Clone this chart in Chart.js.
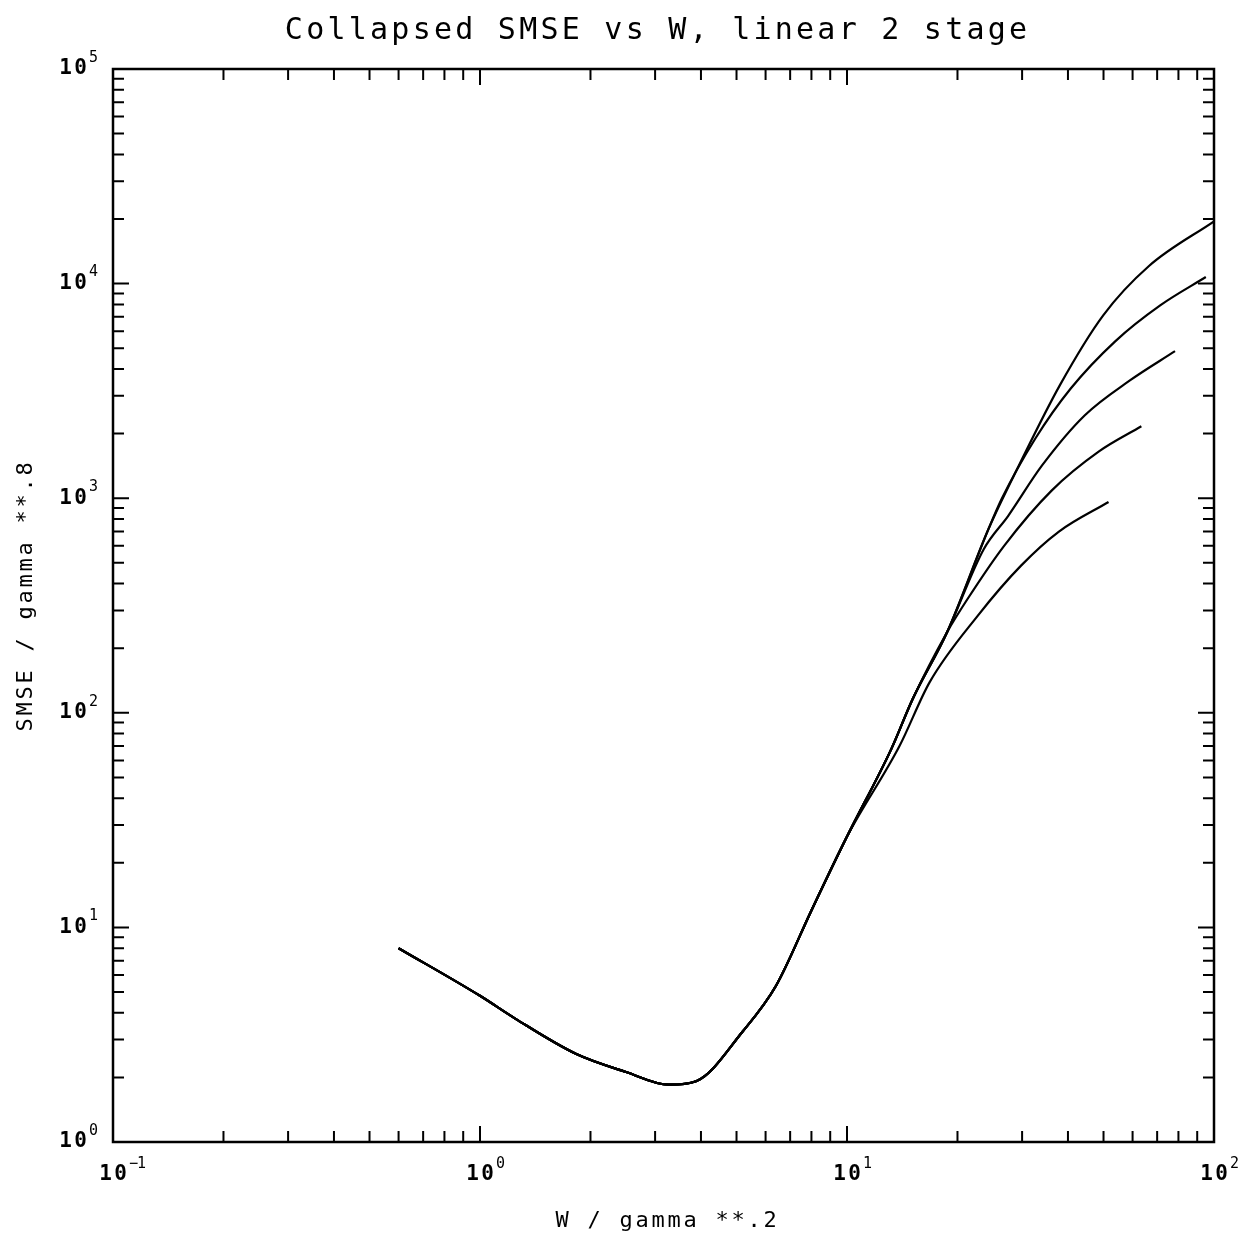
<!DOCTYPE html>
<html>
<head>
<meta charset="utf-8">
<script src="https://cdn.jsdelivr.net/npm/chart.js@4.4.1/dist/chart.umd.min.js"></script>
<style>
  html, body { margin: 0; padding: 0; background: #fff; }
  #wrap { width: 1251px; height: 1236px; }
</style>
</head>
<body>
<div id="wrap"><canvas id="smse" width="1251" height="1236"></canvas></div>
<script>
// common part of all five runs (they lie on top of each other up to W ~ 10)
var baseW = [0.6, 1.0, 1.25, 1.83, 2.5, 3.27, 3.88, 5.21, 6.4, 8, 10];
var baseS = [8.0, 4.8, 3.75, 2.57, 2.12, 1.85, 1.92, 3.29, 5.33, 12, 26.5];
// upper bundle shared by runs 1-4
var bundleW = [13.2, 15.1, 18.75];
var bundleS = [67.7, 116, 238];

// the tails where the runs split
var run1W = [24.3, 29.4, 38, 49.9, 66.5, 100];
var run1S = [719, 1419, 3356, 7114, 12080, 19500];
var run2W = [24.3, 26.4, 32.6, 40.7, 53.8, 71.5, 95];
var run2S = [719, 994, 1897, 3243, 5383, 7935, 10727];
var run3W = [23.6, 27.5, 34, 44.4, 59, 78.3];
var run3S = [580, 828, 1421, 2429, 3537, 4842];
var run4W = [21.3, 26.8, 36.1, 48.6, 63.4];
var run4S = [339, 600, 1085, 1652, 2163];
var run5W = [13.9, 16.8, 22.7, 29.8, 37.8, 51.6];
var run5S = [70, 139, 283, 485, 699, 960];

// decades for the tick labels (10^n)
var xDecades = [-1, 0, 1, 2];
var yDecades = [0, 1, 2, 3, 4, 5];

var titleText = 'Collapsed SMSE vs W, linear 2 stage';
var xTitle = 'W / gamma **.2';
var yTitle = 'SMSE / gamma **.8';

function pts() {
  var out = [];
  for (var a = 0; a < arguments.length; a += 2) {
    var ws = arguments[a], ss = arguments[a + 1];
    for (var i = 0; i < ws.length; i++) out.push({ x: ws[i], y: ss[i] });
  }
  return out;
}

function run(data) {
  return {
    data: data,
    showLine: true,
    borderColor: '#000',
    borderWidth: 2.2,
    pointRadius: 0,
    cubicInterpolationMode: 'monotone',
    fill: false
  };
}

var MONO = '"DejaVu Sans Mono", "Liberation Mono", monospace';

function spaced(ctx, text, cx, y, step) {
  var x0 = cx - step * text.length / 2;
  for (var i = 0; i < text.length; i++) {
    ctx.fillText(text[i], x0 + step * (i + 0.5), y);
  }
}

function power(ctx, exp, x, y, align) {
  // "10" with a raised exponent; x is the centre (bottom) or right end (left axis) of the "10"
  ctx.textBaseline = 'middle';
  ctx.font = 'bold 21px ' + MONO;
  ctx.textAlign = 'center';
  var cx = align === 'right' ? x - 15 : x;
  ctx.fillText('1', cx - 7.5, y);
  ctx.fillText('0', cx + 7.5, y);
  ctx.font = '15px ' + MONO;
  ctx.textAlign = 'left';
  var s = String(exp).replace('-', '\u2212');
  var ex = cx + 16;
  for (var i = 0; i < s.length; i++) {
    ctx.fillText(s[i], ex + i * 8, y - 11);
  }
}

var frame = {
  id: 'frame',
  afterDraw: function (chart) {
    var ctx = chart.ctx, a = chart.chartArea;
    var xs = chart.scales.x, ys = chart.scales.y;
    ctx.save();
    ctx.strokeStyle = '#000';
    ctx.fillStyle = '#000';
    ctx.lineWidth = 2.5;
    ctx.strokeRect(a.left, a.top, a.right - a.left, a.bottom - a.top);

    ctx.lineWidth = 2;
    ctx.beginPath();
    // x ticks, bottom and top, pointing in
    for (var d = -1; d < 2; d++) {
      for (var k = 1; k <= 10; k++) {
        var v = k * Math.pow(10, d);
        var px = xs.getPixelForValue(v);
        var len = (k === 1 || k === 10) ? 16 : 11;
        ctx.moveTo(px, a.bottom); ctx.lineTo(px, a.bottom - len);
        ctx.moveTo(px, a.top); ctx.lineTo(px, a.top + len);
      }
    }
    // y ticks, left and right
    for (var e = 0; e < 5; e++) {
      for (var j = 1; j <= 10; j++) {
        var w = j * Math.pow(10, e);
        var py = ys.getPixelForValue(w);
        var l2 = (j === 1 || j === 10) ? 16 : 11;
        ctx.moveTo(a.left, py); ctx.lineTo(a.left + l2, py);
        ctx.moveTo(a.right, py); ctx.lineTo(a.right - l2, py);
      }
    }
    ctx.stroke();

    xDecades.forEach(function (n) {
      power(ctx, n, xs.getPixelForValue(Math.pow(10, n)), a.bottom + 33, 'center');
    });
    yDecades.forEach(function (n) {
      power(ctx, n, a.left - 25, ys.getPixelForValue(Math.pow(10, n)), 'right');
    });

    ctx.textAlign = 'center';
    ctx.textBaseline = 'alphabetic';
    ctx.font = '30px ' + MONO;
    spaced(ctx, titleText, 656, 39, 21.3);

    ctx.font = '22px ' + MONO;
    spaced(ctx, xTitle, 666, 1227, 16);

    ctx.translate(32, 597);
    ctx.rotate(-Math.PI / 2);
    spaced(ctx, yTitle, 0, 0, 16);
    ctx.restore();
  }
};

new Chart(document.getElementById('smse'), {
  type: 'scatter',
  data: {
    datasets: [
      run(pts(baseW, baseS, bundleW, bundleS, run1W, run1S)),
      run(pts(baseW, baseS, bundleW, bundleS, run2W, run2S)),
      run(pts(baseW, baseS, bundleW, bundleS, run3W, run3S)),
      run(pts(baseW, baseS, bundleW, bundleS, run4W, run4S)),
      run(pts(baseW, baseS, run5W, run5S))
    ]
  },
  options: {
    responsive: false,
    animation: false,
    devicePixelRatio: 1,
    layout: { padding: { left: 113, right: 37, top: 69, bottom: 94 } },
    plugins: { legend: { display: false }, tooltip: { enabled: false } },
    scales: {
      x: { type: 'logarithmic', min: 0.1, max: 100, display: false },
      y: { type: 'logarithmic', min: 1, max: 100000, display: false }
    }
  },
  plugins: [frame]
});
</script>
</body>
</html>
